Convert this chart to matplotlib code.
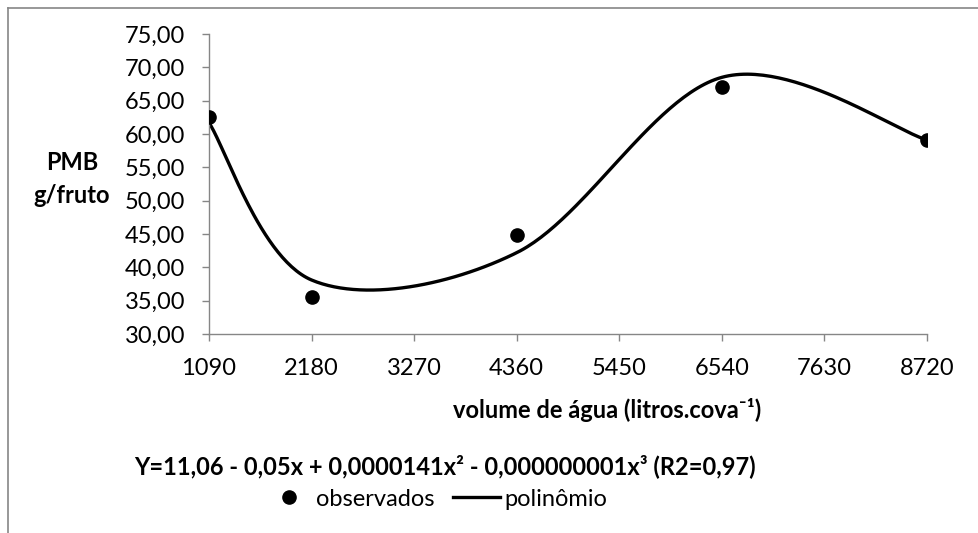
import numpy as np
import matplotlib.pyplot as plt
from matplotlib.lines import Line2D

plt.rcParams['font.family'] = ['Lato', 'DejaVu Sans']

# water volume (litres per pit) and mean fruit mass
volume = [1090, 2180, 4360, 6540, 8720]
observados = [62.5, 35.5, 44.9, 67.0, 59.1]
polinomio = [61.7, 38.1, 42.2, 68.5, 59.1]

x_ticks = [1090, 2180, 3270, 4360, 5450, 6540, 7630, 8720]
y_ticks = [30, 35, 40, 45, 50, 55, 60, 65, 70, 75]

GRAY = '#868686'
FS = 17


def smooth_line(xs, ys, n=60):
    # spreadsheet-style smoothed line: cubic Bezier through each pair of points
    pts = np.column_stack([xs, ys]).astype(float)
    pad = np.vstack([pts[0], pts, pts[-1]])
    out = []
    for i in range(len(pts) - 1):
        p0, p1, p2, p3 = pad[i], pad[i + 1], pad[i + 2], pad[i + 3]
        c1 = p1 + (p2 - p0) / 6
        c2 = p2 - (p3 - p1) / 6
        t = np.linspace(0, 1, n)[:, None]
        seg = ((1 - t) ** 3) * p1 + 3 * ((1 - t) ** 2) * t * c1 \
            + 3 * (1 - t) * t ** 2 * c2 + t ** 3 * p2
        out.append(seg if i == 0 else seg[1:])
    out = np.vstack(out)
    return out[:, 0], out[:, 1]


fig = plt.figure(figsize=(9.79, 5.33), dpi=100)
ax = fig.add_axes([209 / 979, 1 - 334 / 533, 718 / 979, 300 / 533])

sx, sy = smooth_line(volume, polinomio)
ax.plot(sx, sy, color='black', lw=2.4, solid_capstyle='round', zorder=2)
ax.plot(volume, observados, 'o', color='black', ms=9.5, zorder=3)

ax.set_xlim(1090, 8720)
ax.set_ylim(30, 75)
ax.set_xticks(x_ticks)
ax.set_xticklabels([str(v) for v in x_ticks])
ax.set_yticks(y_ticks)
ax.set_yticklabels([f'{v:.2f}'.replace('.', ',') for v in y_ticks])

for side in ['top', 'right']:
    ax.spines[side].set_visible(False)
for side in ['left', 'bottom']:
    ax.spines[side].set_color(GRAY)
    ax.spines[side].set_linewidth(1.0)
ax.tick_params(axis='both', direction='out', length=5, width=1.0, color=GRAY,
               labelsize=FS, labelcolor='black')
ax.tick_params(axis='y', pad=12)
ax.tick_params(axis='x', pad=12)

fig.text(72 / 979, 1 - 163 / 533, 'PMB', ha='center', va='center',
         fontsize=FS, fontweight='bold')
fig.text(72 / 979, 1 - 196 / 533, 'g/fruto', ha='center', va='center',
         fontsize=FS, fontweight='bold')
fig.text(607 / 979, 1 - 410 / 533, 'volume de água (litros.cova⁻¹)',
         ha='center', va='center', fontsize=FS, fontweight='bold')
fig.text(445 / 979, 1 - 466 / 533,
         'Y=11,06 - 0,05x + 0,0000141x² - 0,000000001x³ (R2=0,97)',
         ha='center', va='center', fontsize=FS, fontweight='bold')

handles = [Line2D([], [], marker='o', ls='none', color='black', ms=9.5),
           Line2D([], [], color='black', lw=2.4)]
fig.legend(handles, ['observados', 'polinômio'], loc='center',
           bbox_to_anchor=(436 / 979, 1 - 499 / 533), ncol=2, frameon=False,
           fontsize=FS, handlelength=2.0, handletextpad=0.15,
           columnspacing=0.8, borderpad=0)

# outer chart frame (top and left edges)
fig.add_artist(Line2D([8 / 979, 1], [1 - 8 / 533, 1 - 8 / 533],
                      color=GRAY, lw=1.2, transform=fig.transFigure))
fig.add_artist(Line2D([8 / 979, 8 / 979], [0, 1 - 8 / 533],
                      color=GRAY, lw=1.2, transform=fig.transFigure))

fig.savefig('out.png', dpi=100)
